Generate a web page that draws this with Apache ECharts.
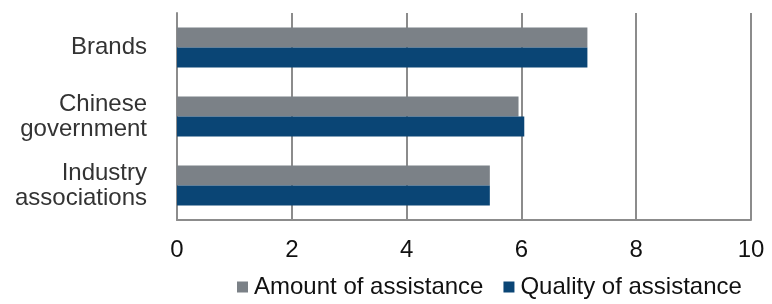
<!DOCTYPE html>
<html>
<head>
<meta charset="utf-8">
<script src="https://cdn.jsdelivr.net/npm/echarts@6/dist/echarts.min.js"></script>
<style>
  html, body { margin: 0; padding: 0; background: #fff; }
  #main { width: 772px; height: 304px; }
</style>
</head>
<body>
<div id="main"></div>
<script>
// categories top to bottom
var categories = ['Brands', 'Chinese\ngovernment', 'Industry\nassociations'];
var amountVals = [7.15, 5.95, 5.45];
var qualityVals = [7.15, 6.05, 5.45];
var seriesNames = ['Amount of assistance', 'Quality of assistance'];

var chart = echarts.init(document.getElementById('main'), null, { renderer: 'canvas' });

var option = {
  animation: false,
  grid: { left: 177, right: 21, top: 13, bottom: 84 },
  legend: {
    bottom: 0,
    left: 232,
    itemWidth: 11,
    itemHeight: 11,
    itemGap: 20,
    icon: 'rect',
    textStyle: { fontFamily: 'Liberation Sans', fontSize: 24, color: '#111', padding: [0, 0, 0, 1] },
    data: seriesNames
  },
  xAxis: {
    type: 'value',
    min: 0, max: 10, interval: 2,
    axisLine: { show: true, lineStyle: { color: '#8c8c8c', width: 2 } },
    axisTick: { show: false },
    axisLabel: { margin: 18, fontFamily: 'Liberation Sans', fontSize: 24, color: '#111' },
    splitLine: { show: true, lineStyle: { color: '#8c8c8c', width: 2 } }
  },
  yAxis: {
    type: 'category',
    inverse: true,
    data: categories,
    axisLine: { show: true, lineStyle: { color: '#8c8c8c', width: 2 } },
    axisTick: { show: false },
    axisLabel: { margin: 30, fontFamily: 'Liberation Sans', fontSize: 24, color: '#333', lineHeight: 25, align: 'right' }
  },
  series: [
    {
      name: seriesNames[0], type: 'bar', data: amountVals,
      barWidth: 20, barGap: '0%', barCategoryGap: '40%',
      itemStyle: { color: '#7b8187' }
    },
    {
      name: seriesNames[1], type: 'bar', data: qualityVals,
      barWidth: 20, barGap: '0%',
      itemStyle: { color: '#0a4575' }
    }
  ]
};
chart.setOption(option);
</script>
</body>
</html>
